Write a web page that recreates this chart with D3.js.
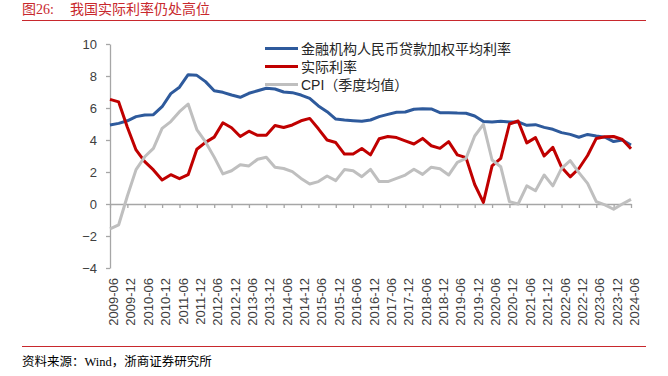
<!DOCTYPE html>
<html>
<head>
<meta charset="utf-8">
<script src="https://cdn.jsdelivr.net/npm/d3@7/dist/d3.min.js"></script>
<style>
  html, body { margin: 0; padding: 0; background: #fff; }
  svg { display: block; }
</style>
</head>
<body>
<svg id="chart" width="668" height="376"></svg>
<script>
const quarters = ["2009-06","2009-09","2009-12","2010-03","2010-06","2010-09","2010-12","2011-03","2011-06","2011-09","2011-12","2012-03","2012-06","2012-09","2012-12","2013-03","2013-06","2013-09","2013-12","2014-03","2014-06","2014-09","2014-12","2015-03","2015-06","2015-09","2015-12","2016-03","2016-06","2016-09","2016-12","2017-03","2017-06","2017-09","2017-12","2018-03","2018-06","2018-09","2018-12","2019-03","2019-06","2019-09","2019-12","2020-03","2020-06","2020-09","2020-12","2021-03","2021-06","2021-09","2021-12","2022-03","2022-06","2022-09","2022-12","2023-03","2023-06","2023-09","2023-12","2024-03","2024-06"];

const tickLabels = ["2009-06","2009-12","2010-06","2010-12","2011-06","2011-12","2012-06","2012-12","2013-06","2013-12","2014-06","2014-12","2015-06","2015-12","2016-06","2016-12","2017-06","2017-12","2018-06","2018-12","2019-06","2019-12","2020-06","2020-12","2021-06","2021-12","2022-06","2022-12","2023-06","2023-12","2024-06"];

const yTicks = [-4, -2, 0, 2, 4, 6, 8, 10];

const seriesNames = ["金融机构人民币贷款加权平均利率", "实际利率", "CPI（季度均值）"];

const loanRate = [4.94,5.04,5.2,5.46,5.56,5.58,6.08,6.9,7.3,8.08,8.04,7.65,7.08,6.98,6.81,6.67,6.92,7.08,7.23,7.19,7.0,6.96,6.81,6.6,6.13,5.77,5.31,5.25,5.21,5.17,5.25,5.46,5.6,5.73,5.75,5.92,5.96,5.94,5.71,5.71,5.68,5.67,5.5,5.15,5.13,5.17,5.13,5.13,4.92,4.96,4.79,4.67,4.46,4.35,4.17,4.35,4.25,4.17,3.9,4.0,3.69];

const realRate = [6.54,6.38,4.8,3.38,2.65,2.13,1.5,1.83,1.58,1.83,3.42,3.85,4.18,5.08,4.77,4.22,4.55,4.29,4.3,4.91,4.78,4.94,5.2,5.35,4.7,4.0,3.84,3.12,3.13,3.47,3.07,4.08,4.22,4.15,3.95,3.75,4.1,3.64,3.48,3.9,3.07,2.9,1.22,0.1,2.38,2.85,5.0,5.19,3.82,4.15,3.0,3.54,2.3,1.7,2.22,3.03,4.1,4.2,4.22,4.03,3.45];

const cpi = [-1.55,-1.3,0.5,2.15,2.95,3.48,4.73,5.15,5.77,6.25,4.65,3.88,2.93,1.88,2.08,2.45,2.38,2.8,2.92,2.3,2.22,2.02,1.6,1.25,1.4,1.75,1.46,2.15,2.08,1.71,2.17,1.4,1.4,1.6,1.81,2.17,1.85,2.3,2.2,1.81,2.6,2.85,4.25,4.98,2.75,2.33,0.15,0.0,1.13,0.83,1.81,1.13,2.23,2.71,1.96,1.29,0.15,-0.06,-0.33,0.0,0.29];

const colors = ["#2e5a9c", "#c00000", "#bfbfbf"];
const series = [loanRate, realRate, cpi];

const svg = d3.select("#chart");
const titleRed = "#c8282d";
const cjk = "'Liberation Serif','Noto Sans CJK SC',serif";
const sans = "'Liberation Sans','Noto Sans CJK SC',Arial,sans-serif";

// Title & rules
svg.append("text").attr("x", 22).attr("y", 14).attr("fill", titleRed)
  .attr("font-family", cjk).attr("font-size", 14)
  .text("图26:");
svg.append("text").attr("x", 70).attr("y", 14).attr("fill", titleRed)
  .attr("font-family", cjk).attr("font-size", 14)
  .text("我国实际利率仍处高位");
svg.append("line").attr("x1", 22).attr("x2", 646).attr("y1", 20.5).attr("y2", 20.5)
  .attr("stroke", titleRed).attr("stroke-width", 1);
svg.append("line").attr("x1", 22).attr("x2", 646).attr("y1", 346.5).attr("y2", 346.5)
  .attr("stroke", titleRed).attr("stroke-width", 1);
svg.append("text").attr("x", 22).attr("y", 366).attr("fill", "#000")
  .attr("font-family", cjk).attr("font-size", 12.5)
  .text("资料来源：Wind，浙商证券研究所");

// Scales
const x = d3.scalePoint().domain(quarters).range([110, 631]);
const y = d3.scaleLinear().domain([-4, 10]).range([268, 44]);

const axisColor = "#a6a6a6";
const labelColor = "#404040";

// Y axis
const yAxis = svg.append("g").attr("transform", "translate(110,0)")
  .call(d3.axisLeft(y).tickValues(yTicks).tickSize(4).tickSizeOuter(0).tickPadding(9).tickFormat(d3.format("d")));
yAxis.select(".domain").attr("stroke", axisColor).attr("stroke-width", 1.3);
yAxis.selectAll(".tick line").attr("stroke", axisColor).attr("stroke-width", 1.3);
yAxis.selectAll(".tick text").attr("fill", labelColor).attr("font-family", sans).attr("font-size", 13);

// X axis at zero with ticks
const tickQuarters = quarters.filter(q => tickLabels.includes(q));
const xAxis = svg.append("g").attr("transform", `translate(0,${y(0)})`)
  .call(d3.axisBottom(x).tickValues(tickQuarters).tickSize(4).tickSizeOuter(0).tickFormat(""));
xAxis.select(".domain").attr("stroke", axisColor).attr("stroke-width", 1.3);
xAxis.selectAll(".tick line").attr("stroke", axisColor).attr("stroke-width", 1.3);

// X labels at bottom
const xLab = svg.append("g").attr("transform", `translate(0,${y(-4)})`)
  .call(d3.axisBottom(x).tickValues(tickLabels).tickSize(0).tickFormat(d => d));
xLab.select(".domain").remove();
xLab.selectAll(".tick text")
  .attr("fill", labelColor).attr("font-family", sans).attr("font-size", 13)
  .attr("text-anchor", "end")
  .attr("transform", "rotate(-90)")
  .attr("x", -10).attr("y", 3).attr("dy", "0.35em");

// Lines
const line = d3.line().x((d, i) => x(quarters[i])).y(d => y(d));
series.forEach((s, k) => {
  svg.append("path").datum(s)
    .attr("fill", "none").attr("stroke", colors[k]).attr("stroke-width", 3)
    .attr("stroke-linejoin", "round").attr("stroke-linecap", "butt")
    .attr("d", line);
});

// Legend
const leg = svg.append("g");
seriesNames.forEach((n, k) => {
  const ly = 48.5 + k * 18;
  leg.append("line").attr("x1", 265).attr("x2", 298).attr("y1", ly).attr("y2", ly)
    .attr("stroke", colors[k]).attr("stroke-width", 3);
  leg.append("text").attr("x", 301).attr("y", ly).attr("dy", "0.36em")
    .attr("fill", "#262626").attr("font-family", sans).attr("font-size", 14)
    .text(n);
});
</script>
</body>
</html>
